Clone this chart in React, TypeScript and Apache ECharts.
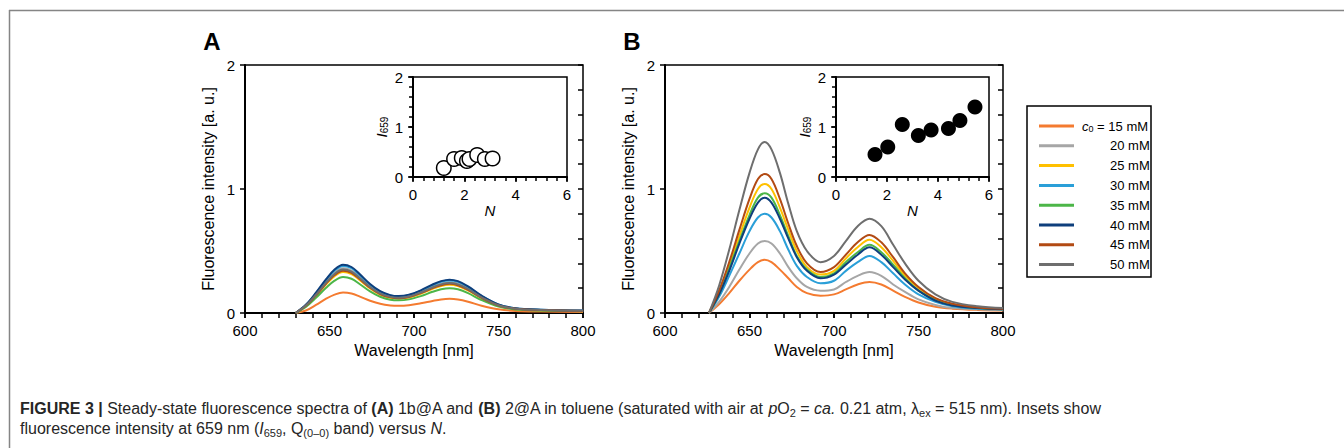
import React, { useEffect, useRef } from "react";
import * as echarts from "echarts";

const FONT = "Liberation Sans, Arial, Helvetica, sans-serif";

// Concentrations (legend) and colours
const CONC = ["15 mM", "20 mM", "25 mM", "30 mM", "35 mM", "40 mM", "45 mM", "50 mM"];
const COLORS = ["#F47B30", "#A6A6A6", "#FFC000", "#2A9FD8", "#4CB648", "#0E3F7C", "#B24A13", "#6E6E6E"];

// Panel A wavelengths (nm) and intensities
const W_A = [630, 636, 642, 648, 653, 658, 663, 668, 674, 680, 686, 691, 697, 704, 711, 716, 721, 726, 732, 740, 750, 760, 775, 800];
const A_15 = [0, 0.02, 0.065, 0.115, 0.148, 0.165, 0.157, 0.132, 0.099, 0.074, 0.061, 0.058, 0.063, 0.078, 0.097, 0.109, 0.114, 0.109, 0.091, 0.059, 0.03, 0.017, 0.012, 0.008];
const A_20 = [0, 0.061, 0.151, 0.252, 0.324, 0.36, 0.342, 0.288, 0.216, 0.162, 0.133, 0.126, 0.137, 0.169, 0.212, 0.238, 0.248, 0.238, 0.198, 0.13, 0.065, 0.036, 0.025, 0.018];
const A_25 = [0, 0.056, 0.139, 0.231, 0.297, 0.33, 0.314, 0.264, 0.198, 0.149, 0.122, 0.116, 0.125, 0.155, 0.195, 0.218, 0.228, 0.218, 0.182, 0.119, 0.059, 0.033, 0.023, 0.017];
const A_30 = [0, 0.065, 0.16, 0.266, 0.342, 0.38, 0.361, 0.304, 0.228, 0.171, 0.141, 0.133, 0.144, 0.179, 0.224, 0.251, 0.262, 0.251, 0.209, 0.137, 0.068, 0.038, 0.027, 0.019];
const A_35 = [0, 0.049, 0.122, 0.203, 0.261, 0.29, 0.276, 0.232, 0.174, 0.131, 0.107, 0.102, 0.11, 0.136, 0.171, 0.191, 0.2, 0.191, 0.16, 0.104, 0.052, 0.029, 0.02, 0.015];
const A_40 = [0, 0.066, 0.164, 0.273, 0.351, 0.39, 0.371, 0.312, 0.234, 0.176, 0.144, 0.137, 0.148, 0.183, 0.23, 0.257, 0.269, 0.257, 0.215, 0.14, 0.07, 0.039, 0.027, 0.02];
const A_45 = [0, 0.058, 0.143, 0.238, 0.306, 0.34, 0.323, 0.272, 0.204, 0.153, 0.126, 0.119, 0.129, 0.16, 0.201, 0.224, 0.235, 0.224, 0.187, 0.122, 0.061, 0.034, 0.024, 0.017];
const A_50 = [0, 0.06, 0.147, 0.245, 0.315, 0.35, 0.333, 0.28, 0.21, 0.158, 0.13, 0.123, 0.133, 0.165, 0.207, 0.231, 0.242, 0.231, 0.193, 0.126, 0.063, 0.035, 0.025, 0.018];

// Panel B wavelengths (nm) and intensities
const W_B = [626, 632, 638, 644, 650, 655, 659, 663, 668, 673, 678, 684, 692, 700, 707, 714, 721, 728, 735, 742, 750, 760, 770, 785, 800];
const B_15 = [0, 0.07, 0.16, 0.26, 0.35, 0.41, 0.43, 0.41, 0.35, 0.28, 0.21, 0.16, 0.14, 0.15, 0.19, 0.23, 0.25, 0.23, 0.18, 0.13, 0.085, 0.05, 0.035, 0.025, 0.02];
const B_20 = [0, 0.09, 0.21, 0.35, 0.48, 0.56, 0.58, 0.56, 0.48, 0.37, 0.28, 0.21, 0.18, 0.19, 0.25, 0.3, 0.33, 0.3, 0.23, 0.17, 0.11, 0.065, 0.04, 0.03, 0.025];
const B_25 = [0, 0.17, 0.38, 0.62, 0.85, 1.0, 1.04, 1.0, 0.85, 0.67, 0.5, 0.37, 0.31, 0.34, 0.44, 0.53, 0.59, 0.53, 0.42, 0.3, 0.2, 0.115, 0.07, 0.045, 0.035];
const B_30 = [0, 0.13, 0.3, 0.48, 0.66, 0.77, 0.8, 0.77, 0.66, 0.51, 0.38, 0.29, 0.24, 0.26, 0.34, 0.41, 0.46, 0.41, 0.32, 0.23, 0.15, 0.09, 0.055, 0.035, 0.03];
const B_35 = [0, 0.15, 0.36, 0.58, 0.79, 0.93, 0.965, 0.93, 0.79, 0.62, 0.46, 0.35, 0.29, 0.32, 0.41, 0.49, 0.55, 0.49, 0.39, 0.28, 0.18, 0.105, 0.065, 0.04, 0.03];
const B_40 = [0, 0.15, 0.34, 0.56, 0.76, 0.89, 0.93, 0.89, 0.76, 0.6, 0.45, 0.34, 0.28, 0.31, 0.39, 0.47, 0.53, 0.47, 0.37, 0.27, 0.18, 0.1, 0.06, 0.04, 0.03];
const B_45 = [0, 0.18, 0.41, 0.67, 0.92, 1.08, 1.12, 1.08, 0.92, 0.72, 0.54, 0.4, 0.33, 0.37, 0.47, 0.57, 0.63, 0.57, 0.45, 0.32, 0.21, 0.12, 0.075, 0.045, 0.035];
const B_50 = [0, 0.22, 0.51, 0.83, 1.13, 1.32, 1.38, 1.32, 1.13, 0.88, 0.66, 0.5, 0.41, 0.46, 0.58, 0.7, 0.76, 0.7, 0.55, 0.4, 0.26, 0.15, 0.09, 0.055, 0.04];

// Insets: I659 versus N
const N_A = [1.2, 1.6, 1.9, 2.1, 2.2, 2.5, 2.8, 3.1];
const I_A = [0.18, 0.36, 0.38, 0.32, 0.36, 0.44, 0.36, 0.37];
const N_B = [1.53, 2.03, 2.6, 3.23, 3.73, 4.41, 4.86, 5.45];
const I_B = [0.45, 0.6, 1.05, 0.83, 0.94, 0.97, 1.13, 1.4];

const SPEC_A = [A_15, A_20, A_25, A_30, A_35, A_40, A_45, A_50];
const SPEC_B = [B_15, B_20, B_25, B_30, B_35, B_40, B_45, B_50];

const CAPTION =
  "{b|FIGURE 3 |}{n| Steady-state fluorescence spectra of }{b|(A)}{n| 1b@A and }{b|(B)}{n| 2@A in toluene (saturated with air at }{i|p}{n|O}{s|2}{n| = }{i|ca.}{n| 0.21 atm, λ}{s|ex}{n| = 515 nm). Insets show}\n" +
  "{n|fluorescence intensity at 659 nm (}{i|I}{s|659}{n|, Q}{s|(0–0)}{n| band) versus }{i|N}{n|.}";

const axisLine = { show: true, onZero: false, lineStyle: { color: "#000", width: 2 } };
const tickStyle = { color: "#000", width: 1.5 };

function axesFor(
  gridIndex: number,
  min: number,
  max: number,
  interval: number,
  minor: number,
  isX: boolean,
  name: any,
  nameGap: number,
  nameStyle: any,
  inset: boolean
) {
  const main: any = {
    type: "value",
    gridIndex,
    min,
    max,
    interval,
    axisLine,
    axisTick: { show: true, inside: false, length: 5, lineStyle: tickStyle },
    axisLabel: { fontSize: 15, color: "#000", fontFamily: FONT, margin: 10 },
    splitLine: { show: false },
    name,
    nameLocation: "middle",
    nameGap,
    nameTextStyle: nameStyle,
  };
  if (!isX) main.nameRotate = 90;
  const min2: any = {
    type: "value",
    gridIndex,
    min,
    max,
    interval: minor,
    axisLine: { show: false },
    axisTick: { show: true, inside: true, length: inset ? 4 : 5, lineStyle: tickStyle },
    axisLabel: { show: false },
    splitLine: { show: false },
  };
  return [main, min2];
}

export default function App() {
  const ref = useRef<HTMLDivElement>(null);
  useEffect(() => {
    if (!ref.current) return;
    const chart = echarts.init(ref.current, null, { renderer: "svg" });

    const nameMain = { fontSize: 16, color: "#000", fontFamily: FONT };
    const insetYName = {
      fontSize: 15,
      color: "#000",
      fontFamily: FONT,
      rich: {
        i: { fontSize: 15, fontStyle: "italic", fontFamily: FONT, color: "#000", lineHeight: 16 },
        s: { fontSize: 10, fontFamily: FONT, color: "#000", lineHeight: 9, verticalAlign: "bottom" },
      },
    };
    const insetXName = { fontSize: 15, color: "#000", fontFamily: FONT, fontStyle: "italic" };

    const grids = [
      { left: 245, top: 65, width: 338, height: 248 },
      { left: 665, top: 65, width: 338, height: 248 },
      { left: 413, top: 77, width: 154, height: 100 },
      { left: 836, top: 77, width: 153, height: 100 },
    ].map((g) => ({ ...g, show: true, borderColor: "#000", borderWidth: 1.5, backgroundColor: "transparent" }));

    const xAxes: any[] = [
      ...axesFor(0, 600, 800, 50, 10, true, "Wavelength [nm]", 28, nameMain, false),
      ...axesFor(1, 600, 800, 50, 10, true, "Wavelength [nm]", 28, nameMain, false),
      ...axesFor(2, 0, 6, 2, 0.4, true, "N", 26, insetXName, true),
      ...axesFor(3, 0, 6, 2, 0.4, true, "N", 26, insetXName, true),
    ];
    const yAxes: any[] = [
      ...axesFor(0, 0, 2, 1, 0.2, false, "Fluorescence intensity [a. u.]", 29, nameMain, false),
      ...axesFor(1, 0, 2, 1, 0.2, false, "Fluorescence intensity [a. u.]", 29, nameMain, false),
      ...axesFor(2, 0, 2, 1, 0.2, false, "{i|I}{s|659}", 24, insetYName, true),
      ...axesFor(3, 0, 2, 1, 0.2, false, "{i|I}{s|659}", 24, insetYName, true),
    ];

    const series: any[] = [];
    SPEC_A.forEach((vals, k) => {
      series.push({
        type: "line",
        name: CONC[k],
        xAxisIndex: 0,
        yAxisIndex: 0,
        data: W_A.map((w, i) => [w, vals[i]]),
        smooth: 0.35,
        showSymbol: false,
        symbol: "none",
        lineStyle: { color: COLORS[k], width: 2 },
        itemStyle: { color: COLORS[k] },
      });
    });
    SPEC_B.forEach((vals, k) => {
      series.push({
        type: "line",
        name: CONC[k],
        xAxisIndex: 2,
        yAxisIndex: 2,
        data: W_B.map((w, i) => [w, vals[i]]),
        smooth: 0.35,
        showSymbol: false,
        symbol: "none",
        lineStyle: { color: COLORS[k], width: 2 },
        itemStyle: { color: COLORS[k] },
      });
    });
    series.push({
      type: "scatter",
      name: "insetA",
      xAxisIndex: 4,
      yAxisIndex: 4,
      data: N_A.map((n, i) => [n, I_A[i]]),
      symbolSize: 14.5,
      itemStyle: { color: "#fff", borderColor: "#000", borderWidth: 1.5, opacity: 1 },
    });
    series.push({
      type: "scatter",
      name: "insetB",
      xAxisIndex: 6,
      yAxisIndex: 6,
      data: N_B.map((n, i) => [n, I_B[i]]),
      symbolSize: 15,
      itemStyle: { color: "#000", opacity: 1 },
    });

    const legendRich = {
      i: { fontSize: 13, fontStyle: "italic", fontFamily: FONT, color: "#000", lineHeight: 15 },
      s: { fontSize: 9, fontFamily: FONT, color: "#000", lineHeight: 8, verticalAlign: "bottom" },
      n: { fontSize: 13, fontFamily: FONT, color: "#000", lineHeight: 15 },
    };

    const CF = 16;
    const capRich = {
      n: { fontSize: CF, fontFamily: FONT, color: "#262626", lineHeight: 20 },
      b: { fontSize: CF, fontFamily: FONT, fontWeight: "bold", color: "#262626", lineHeight: 20 },
      i: { fontSize: CF, fontFamily: FONT, fontStyle: "italic", color: "#262626", lineHeight: 20 },
      s: { fontSize: 11, fontFamily: FONT, color: "#262626", lineHeight: 11, verticalAlign: "bottom" },
    };

    chart.setOption({
      animation: false,
      grid: grids,
      xAxis: xAxes,
      yAxis: yAxes,
      series,
      legend: {
        orient: "vertical",
        left: 1034,
        top: 113.5,
        itemWidth: 35,
        itemHeight: 3,
        itemGap: 4.8,
        icon: "rect",
        selectedMode: false,
        data: CONC.map((c, i) => ({
          name: c,
          textStyle: { padding: i === 0 ? [0, 0, 0, 3] : [0, 0, 0, 31] },
        })),
        formatter: (name: string) =>
          name === CONC[0] ? "{i|c}{s|0}{n| = " + name + "}" : "{n|" + name + "}",
        textStyle: { fontSize: 13, fontFamily: FONT, color: "#000", lineHeight: 15, rich: legendRich },
      },
      graphic: [
        { type: "line", shape: { x1: 9, y1: 10.5, x2: 1344, y2: 10.5 }, style: { stroke: "#858585", lineWidth: 1.5 } },
        { type: "line", shape: { x1: 9.5, y1: 10, x2: 9.5, y2: 448 }, style: { stroke: "#858585", lineWidth: 1.5 } },
        {
          type: "rect",
          shape: { x: 1027, y: 106, width: 124, height: 171 },
          style: { fill: "none", stroke: "#000", lineWidth: 1.5 },
        },
        {
          type: "text",
          x: 212,
          y: 41,
          style: { text: "A", fontSize: 24, fontWeight: "bold", fontFamily: FONT, fill: "#000", align: "center", verticalAlign: "middle" },
        },
        {
          type: "text",
          x: 632,
          y: 41,
          style: { text: "B", fontSize: 24, fontWeight: "bold", fontFamily: FONT, fill: "#000", align: "center", verticalAlign: "middle" },
        },
        {
          type: "text",
          x: 20,
          y: 398,
          style: {
            text: CAPTION,
            fontSize: CF,
            fontFamily: FONT,
            fill: "#262626",
            rich: capRich,
            verticalAlign: "top",
            align: "left",
          },
        },
      ],
    });
    return () => chart.dispose();
  }, []);

  return (
    <div
      ref={ref}
      style={{ position: "absolute", left: 0, top: 0, width: 1344, height: 448, background: "#fff" }}
    />
  );
}
